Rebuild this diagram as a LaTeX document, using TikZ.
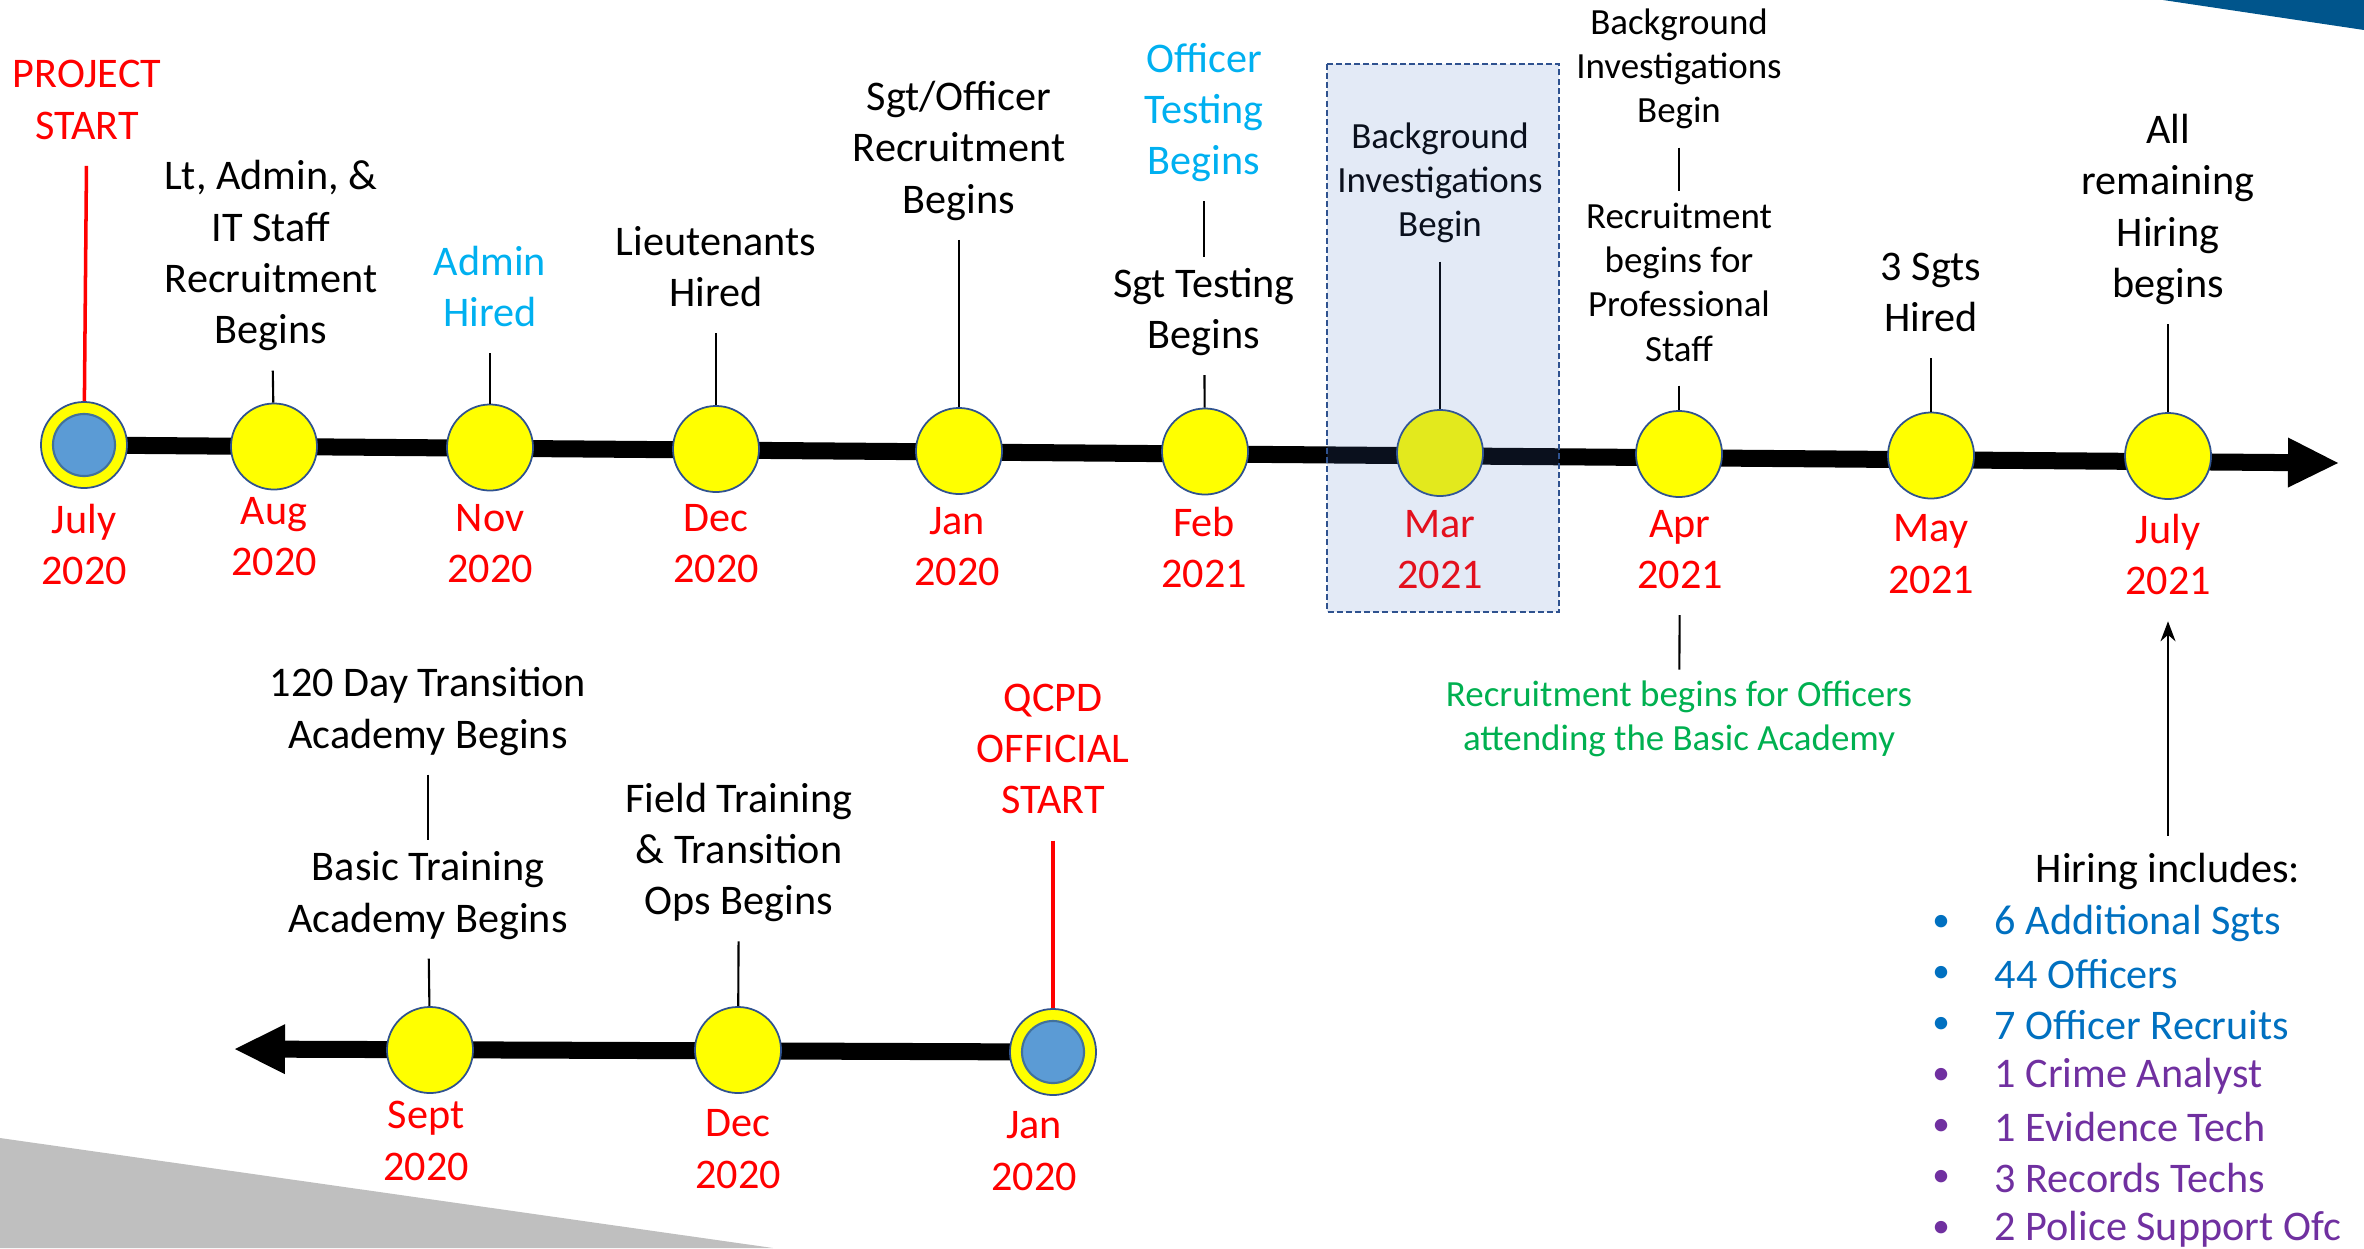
\documentclass[tikz,border=0pt]{standalone}
\usepackage{fontspec}
\setmainfont{Carlito}
\usetikzlibrary{arrows.meta,backgrounds}

\definecolor{tlRed}{HTML}{FF0000}
\definecolor{tlCyan}{HTML}{00B0F0}
\definecolor{tlGreen}{HTML}{00B050}
\definecolor{listBlue}{HTML}{0070C0}
\definecolor{listPurple}{HTML}{7030A0}
\definecolor{dotFill}{HTML}{FFFF00}
\definecolor{dotEdge}{HTML}{2F528F}
\definecolor{startFill}{HTML}{5B9BD5}
\definecolor{startEdge}{HTML}{41719C}
\definecolor{boxFill}{HTML}{4472C4}
\definecolor{cornerBlue}{RGB}{0,85,140}
\definecolor{wedgeGrey}{HTML}{BFBFBF}

\begin{document}
\begin{tikzpicture}[x=0.01cm, y=0.01cm, >=Stealth,
    lbl/.style={font=\fontsize{12}{14.6}\selectfont, align=center, inner xsep=0pt, inner ysep=3pt,
        yshift=-0.065cm, execute at begin node=\strut, execute at end node=\strut},
    sml/.style={lbl, font=\fontsize{10.5}{12.6}\selectfont},
    month/.style={lbl, text=tlRed},
    dot/.style={circle, draw=dotEdge, line width=0.5pt, fill=dotFill, minimum size=0.86cm, inner sep=0pt},
    startdot/.style={dot, path picture={\filldraw[fill=startFill, draw=startEdge, line width=0.6pt]
        (path picture bounding box.center) circle (0.31cm);}},
    stem/.style={line width=0.6pt},
    redstem/.style={tlRed, line width=1pt},
    tline/.style={line width=0.17cm, -{Triangle[length=0.5cm, width=0.5cm, line width=0pt]}},
    hireitem/.style={font=\fontsize{12}{14.6}\selectfont, anchor=west, inner sep=0pt}]
    \useasboundingbox (0,0) rectangle (2364,-1248);

    % 1. 角落色块
    \fill[cornerBlue] (2163,0) -- (2364,-30) -- (2364,0) -- cycle;
    \fill[wedgeGrey] (0,-1138) -- (773,-1248) -- (0,-1248) -- cycle;

    % 2. 上方时间轴节点
    \node[startdot] (cJul) at (84,-445) {};
    \node[dot] (cAug) at (274,-446.5) {};
    \node[dot] (cNov) at (490,-447.5) {};
    \node[dot] (cDec) at (716,-449) {};
    \node[dot] (cJan) at (959,-451) {};
    \node[dot] (cFeb) at (1205,-451.5) {};
    \node[dot] (cMar) at (1440,-453) {};
    \node[dot] (cApr) at (1679,-454) {};
    \node[dot] (cMay) at (1931,-455.5) {};
    \node[dot] (cJulB) at (2168,-456) {};
    \coordinate (tipR) at (2338,-463);

    % 3. 上方事件文字
    \node[lbl, text=tlRed] (tStart) at (87,-101) {PROJECT\\START};
    \node[lbl] (tAug) at (271,-253.5) {Lt, Admin, \&\\IT Staff\\Recruitment\\Begins};
    \node[lbl, text=tlCyan] (tNov) at (490,-287.5) {Admin\\Hired};
    \node[lbl] (tDec) at (716,-267.5) {Lieutenants\\Hired};
    \node[lbl] (tJan) at (959,-148.5) {Sgt/Officer\\Recruitment\\Begins};
    \node[lbl, text=tlCyan] (tFebA) at (1204,-110) {Officer\\Testing\\Begins};
    \node[lbl] (tFebB) at (1204,-309.5) {Sgt Testing\\Begins};
    \node[sml] (tMar) at (1440,-180) {Background\\Investigations\\Begin};
    \node[sml] (tAprA) at (1679,-66) {Background\\Investigations\\Begin};
    \node[sml] (tAprB) at (1679,-282) {Recruitment\\begins for\\Professional\\Staff};
    \node[lbl] (tMay) at (1931,-293.5) {3 Sgts\\Hired};
    \node[lbl] (tJulB) at (2168,-207) {All\\remaining\\Hiring\\begins};

    % 4. 上方月份
    \node[month] (mJul) at (84,-545.5) {July\\2020};
    \node[month] (mAug) at (274,-537.5) {Aug\\2020};
    \node[month] (mNov) at (490,-544.5) {Nov\\2020};
    \node[month] (mDec) at (716,-544.5) {Dec\\2020};
    \node[month] (mJan) at (957,-547.5) {Jan\\2020};
    \node[month] (mFeb) at (1204,-548.5) {Feb\\2021};
    \node[month] (mMar) at (1440,-550.5) {Mar\\2021};
    \node[month] (mApr) at (1680,-550.5) {Apr\\2021};
    \node[month] (mMay) at (1931,-555) {May\\2021};
    \node[month] (mJulB) at (2168,-555.5) {July\\2021};

    % 5. 竖线
    \draw[redstem] (tStart) -- (cJul);
    \draw[stem] (tAug) -- (cAug);
    \draw[stem] (tNov) -- (cNov);
    \draw[stem] (tDec) -- (cDec);
    \draw[stem] (tJan) -- (cJan);
    \draw[stem] (tFebA) -- (tFebB);
    \draw[stem] (tFebB) -- (cFeb);
    \draw[stem] (tMar) -- (cMar);
    \draw[stem] (tAprA) -- (tAprB);
    \draw[stem] (tAprB) -- (cApr);
    \draw[stem] (tMay) -- (cMay);
    \draw[stem] (tJulB) -- (cJulB);

    % 6. 下方补充说明
    \node[sml, text=tlGreen] (tRecruit) at (1679,-716) {Recruitment begins for Officers\\attending the Basic Academy};
    \draw[stem] (mApr) -- (tRecruit);
    \node[lbl] (tHiring) at (2168,-866) {Hiring includes:};
    \draw[stem, ->] (tHiring) -- (mJulB);
    \node[hireitem, text=listBlue] (h1) at (1994,-923) {6 Additional Sgts};
    \node[hireitem, text=listBlue] (h2) at (1994,-974) {44 Officers};
    \node[hireitem, text=listBlue] (h3) at (1994,-1025) {7 Officer Recruits};
    \node[hireitem, text=listPurple] (h4) at (1994,-1076) {1 Crime Analyst};
    \node[hireitem, text=listPurple] (h5) at (1994,-1127) {1 Evidence Tech};
    \node[hireitem, text=listPurple] (h6) at (1994,-1178) {3 Records Techs};
    \node[hireitem, text=listPurple] (h7) at (1994,-1229) {2 Police Support Ofc};
    \node[text=listBlue] at (1941,-923) {\textbullet};
    \node[text=listBlue] at (1941,-974) {\textbullet};
    \node[text=listBlue] at (1941,-1025) {\textbullet};
    \node[text=listPurple] at (1941,-1076) {\textbullet};
    \node[text=listPurple] at (1941,-1127) {\textbullet};
    \node[text=listPurple] at (1941,-1178) {\textbullet};
    \node[text=listPurple] at (1941,-1229) {\textbullet};

    % 7. 下方时间轴
    \node[dot] (cSep) at (430,-1050) {};
    \node[dot] (cDecB) at (738,-1050) {};
    \node[startdot] (cJanB) at (1053,-1052) {};
    \coordinate (tipL) at (235,-1049);
    \node[lbl] (t120) at (428,-709) {120 Day Transition\\Academy Begins};
    \node[lbl] (tBasic) at (428,-893) {Basic Training\\Academy Begins};
    \node[lbl] (tField) at (739,-850) {Field Training\\\& Transition\\Ops Begins};
    \node[lbl, text=tlRed] (tQcpd) at (1053,-750) {QCPD\\OFFICIAL\\START};
    \node[month] (mSep) at (426,-1142) {Sept\\2020};
    \node[month] (mDecB) at (738,-1150) {Dec\\2020};
    \node[month] (mJanB) at (1034,-1152) {Jan\\2020};
    \draw[stem] (t120) -- (tBasic);
    \draw[stem] (tBasic) -- (cSep);
    \draw[stem] (tField) -- (cDecB);
    \draw[redstem] (tQcpd) -- (cJanB);

    % 8. 主轴线放在底层
    \begin{scope}[on background layer]
        \draw[tline] (cJul.center) -- (tipR);
        \draw[tline] (cJanB.center) -- (tipL);
    \end{scope}

    % 9. 三月高亮框
    \draw[dotEdge, line width=0.45pt, dash pattern=on 1.7pt off 0.9pt, fill=boxFill, fill opacity=0.15]
        (1327,-64) rectangle (1559,-612);
\end{tikzpicture}
\end{document}
